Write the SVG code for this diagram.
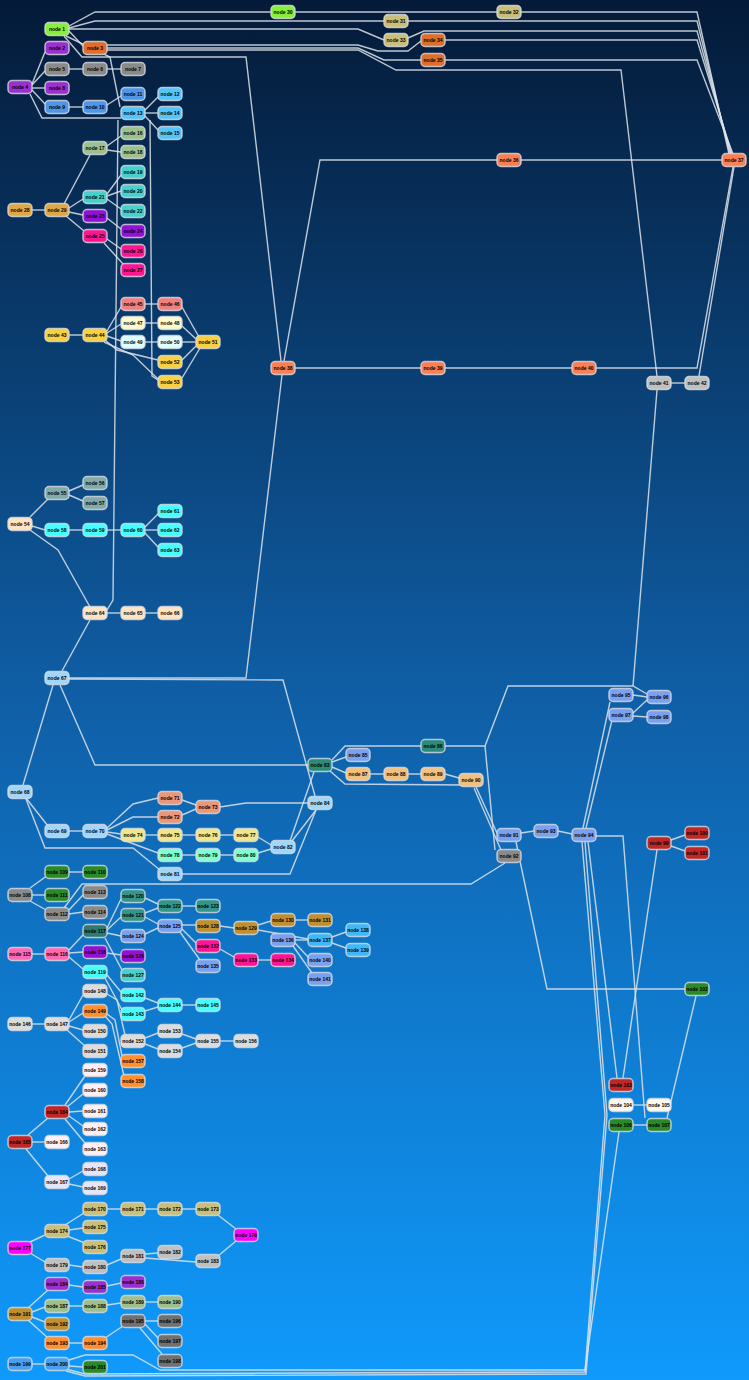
<svg xmlns="http://www.w3.org/2000/svg" width="749" height="1380" viewBox="0 0 749 1380">
<defs>
<linearGradient id="bg" x1="0" y1="0" x2="0" y2="1">
<stop offset="0" stop-color="#041a38"/>
<stop offset="0.5" stop-color="#0f5ea5"/>
<stop offset="1" stop-color="#0f9afc"/>
</linearGradient>
</defs>
<style>
rect.n{stroke:#d8dce2;stroke-opacity:0.8;stroke-width:1.5}
text{font-family:"Liberation Sans",Arial,sans-serif;font-size:5px;font-weight:bold;fill:#000;text-anchor:middle}
#edges path{fill:none;stroke:#dfe4ea;stroke-opacity:0.85;stroke-width:1.4}
.lg{fill:#88ee3a}.pu{fill:#9b30d0}.ch{fill:#dd6e2c}.gr{fill:#8a8a8a}.bl{fill:#4f95e8}.sk{fill:#54c4fb}
.dsg{fill:#9ec08e}.mt{fill:#48d1cc}.dv{fill:#9410d3}.dp{fill:#ff1493}.gd{fill:#dfa845}.dk{fill:#c8c07a}
.co{fill:#fa7f55}.si{fill:#c0c0c0}.go{fill:#f8d040}.lc{fill:#f08080}.lch{fill:#fffacd}.lcy{fill:#e0ffff}
.bi{fill:#ffe4c4}.cb{fill:#82aaa8}.aq{fill:#44ffff}.lsb{fill:#a0d6fb}.ds{fill:#e9967a}.kh{fill:#f0e68c}
.am{fill:#7fffd4}.tl{fill:#2b8a7a}.cf{fill:#7aa0f0}.bw{fill:#f3c07e}.fb{fill:#c02828}.fg{fill:#2a8a2a}
.fw{fill:#fffaf0}.hp{fill:#ff69b4}.dt{fill:#2c7a70}.tm{fill:#34958a}.dgr{fill:#c09030}.dsb{fill:#40b8f8}
.gn{fill:#dcdcdc}.do{fill:#ff9030}.lb{fill:#fff0f5}.lav{fill:#e6e6fa}.mg{fill:#ff00ff}.dkh{fill:#c8c078}
.dim{fill:#707070}.dgb{fill:#4aa0f0}
</style>
<rect width="749" height="1380" fill="url(#bg)"/>
<g id="edges">
<path d="M69,31 L83,46"/>
<path d="M69,26 L95,12 L271,12"/>
<path d="M295,12 L497,12"/>
<path d="M521,12 L697,12 L729,154"/>
<path d="M69,28 L95,21 L384,21"/>
<path d="M408,21 L697,21 L730,154"/>
<path d="M69,29 L358,29 L384,40"/>
<path d="M408,38 L424,31 L697,31 L731,154"/>
<path d="M107,45 L358,45 L378,51 L408,51 L421,41"/>
<path d="M445,40 L697,40 L732,154"/>
<path d="M107,48 L358,48 L384,60 L421,60"/>
<path d="M445,60 L697,60 L733,154"/>
<path d="M107,50 L358,50 L396,70 L621,70 L657,376"/>
<path d="M64,36 L82,57 L246,57 L281,361"/>
<path d="M66,36 L110,57 L120,107"/>
<path d="M32,84 L45,52"/>
<path d="M32,85 L45,71"/>
<path d="M32,88 L45,88"/>
<path d="M32,90 L45,104"/>
<path d="M30,94 L42,118 L121,118"/>
<path d="M69,69 L83,69"/>
<path d="M107,69 L121,69"/>
<path d="M69,107 L83,107"/>
<path d="M107,105 L121,96"/>
<path d="M145,110 L158,97"/>
<path d="M145,113 L158,113"/>
<path d="M145,116 L158,130"/>
<path d="M150,120 L152,376 L158,380"/>
<path d="M118,120 L113,600 L107,610"/>
<path d="M107,146 L121,136"/>
<path d="M107,150 L121,152"/>
<path d="M32,210 L45,210"/>
<path d="M64,204 L90,155"/>
<path d="M69,208 L83,199"/>
<path d="M69,212 L83,215"/>
<path d="M66,216 L84,231"/>
<path d="M107,194 L121,175"/>
<path d="M107,196 L121,191"/>
<path d="M107,199 L121,209"/>
<path d="M107,218 L121,229"/>
<path d="M107,239 L121,249"/>
<path d="M104,243 L124,265"/>
<path d="M69,335 L83,335"/>
<path d="M107,331 L121,307"/>
<path d="M107,333 L121,324"/>
<path d="M107,336 L121,341"/>
<path d="M105,340 L117,350 L158,360"/>
<path d="M104,342 L133,355 L158,379"/>
<path d="M145,304 L158,304"/>
<path d="M145,323 L158,323"/>
<path d="M145,342 L158,342"/>
<path d="M182,307 L199,337"/>
<path d="M182,326 L196,339"/>
<path d="M182,342 L196,342"/>
<path d="M182,360 L196,346"/>
<path d="M182,378 L200,348"/>
<path d="M30,517 L48,499"/>
<path d="M32,526 L45,530"/>
<path d="M30,530 L58,550 L90,607"/>
<path d="M69,491 L83,485"/>
<path d="M69,495 L83,501"/>
<path d="M69,530 L83,530"/>
<path d="M107,530 L121,530"/>
<path d="M145,527 L158,514"/>
<path d="M145,530 L158,530"/>
<path d="M145,533 L158,547"/>
<path d="M107,613 L121,613"/>
<path d="M145,613 L158,613"/>
<path d="M62,671 L90,620"/>
<path d="M69,678 L246,678 L282,375"/>
<path d="M69,679 L283,680 L315,796"/>
<path d="M60,685 L95,765 L308,765"/>
<path d="M53,685 L23,785"/>
<path d="M26,798 L48,826"/>
<path d="M26,799 L45,848 L133,848 L160,870"/>
<path d="M69,831 L83,831"/>
<path d="M107,828 L133,804 L158,798"/>
<path d="M107,830 L133,817 L158,817"/>
<path d="M107,832 L121,834"/>
<path d="M107,834 L158,853"/>
<path d="M182,800 L196,805"/>
<path d="M182,815 L196,809"/>
<path d="M220,807 L246,803 L308,803"/>
<path d="M145,835 L158,835"/>
<path d="M182,835 L196,835"/>
<path d="M220,835 L234,835"/>
<path d="M258,837 L271,845"/>
<path d="M182,855 L196,855"/>
<path d="M220,855 L234,855"/>
<path d="M258,853 L271,849"/>
<path d="M182,874 L290,874 L316,810"/>
<path d="M290,841 L314,772"/>
<path d="M292,841 L316,810"/>
<path d="M332,762 L346,757"/>
<path d="M332,760 L345,746 L421,746"/>
<path d="M332,767 L346,773"/>
<path d="M330,771 L345,784 L462,785"/>
<path d="M370,774 L384,774"/>
<path d="M408,774 L421,774"/>
<path d="M445,774 L459,778"/>
<path d="M445,746 L485,746 L508,686 L633,686 L647,694"/>
<path d="M657,390 L633,686"/>
<path d="M671,383 L685,383"/>
<path d="M699,376 L734,167"/>
<path d="M596,368 L697,368 L733,167"/>
<path d="M284,361 L320,160 L497,160"/>
<path d="M521,160 L722,160"/>
<path d="M295,368 L421,368"/>
<path d="M445,368 L572,368"/>
<path d="M476,787 L497,833"/>
<path d="M474,788 L501,850"/>
<path d="M485,746 L495,850"/>
<path d="M521,833 L534,831"/>
<path d="M558,831 L572,834"/>
<path d="M586,828 L612,720"/>
<path d="M583,828 L610,702"/>
<path d="M633,695 L647,697"/>
<path d="M633,713 L647,700"/>
<path d="M633,716 L647,717"/>
<path d="M596,836 L623,836 L645,1118"/>
<path d="M588,842 L617,1078"/>
<path d="M516,842 L547,989 L685,989"/>
<path d="M671,840 L685,835"/>
<path d="M671,846 L685,851"/>
<path d="M657,850 L623,1078"/>
<path d="M696,996 L667,1118"/>
<path d="M633,1105 L647,1105"/>
<path d="M633,1125 L647,1125"/>
<path d="M505,863 L471,884 L82,884 L64,908"/>
<path d="M30,888 L48,875"/>
<path d="M32,895 L45,895"/>
<path d="M30,901 L48,911"/>
<path d="M69,872 L83,872"/>
<path d="M69,910 L83,895"/>
<path d="M69,914 L83,912"/>
<path d="M32,954 L45,954"/>
<path d="M69,950 L83,935"/>
<path d="M69,953 L83,952"/>
<path d="M69,957 L83,969"/>
<path d="M107,928 L121,899"/>
<path d="M107,930 L121,917"/>
<path d="M107,933 L121,936"/>
<path d="M105,938 L122,970"/>
<path d="M107,953 L121,955"/>
<path d="M107,975 L121,992"/>
<path d="M105,978 L122,1010"/>
<path d="M145,898 L158,904"/>
<path d="M145,913 L158,908"/>
<path d="M145,917 L158,924"/>
<path d="M145,934 L158,928"/>
<path d="M182,906 L196,906"/>
<path d="M182,925 L196,925"/>
<path d="M182,929 L196,943"/>
<path d="M180,932 L200,960"/>
<path d="M220,926 L234,928"/>
<path d="M258,925 L271,921"/>
<path d="M258,930 L308,939"/>
<path d="M295,920 L308,920"/>
<path d="M295,940 L308,940"/>
<path d="M295,943 L308,957"/>
<path d="M293,946 L312,973"/>
<path d="M332,937 L346,932"/>
<path d="M332,943 L346,948"/>
<path d="M220,949 L234,957"/>
<path d="M258,960 L271,960"/>
<path d="M145,998 L158,1003"/>
<path d="M145,1011 L158,1007"/>
<path d="M182,1005 L196,1005"/>
<path d="M32,1024 L45,1024"/>
<path d="M69,1020 L83,995"/>
<path d="M69,1022 L83,1013"/>
<path d="M69,1026 L83,1030"/>
<path d="M67,1030 L85,1046"/>
<path d="M107,994 L117,1000 L125,1035"/>
<path d="M107,1014 L115,1020 L122,1056"/>
<path d="M105,1016 L112,1024 L124,1076"/>
<path d="M145,1038 L158,1033"/>
<path d="M145,1044 L158,1049"/>
<path d="M182,1034 L196,1039"/>
<path d="M182,1048 L196,1043"/>
<path d="M220,1041 L234,1041"/>
<path d="M65,1105 L85,1076"/>
<path d="M67,1107 L83,1094"/>
<path d="M69,1112 L83,1111"/>
<path d="M69,1116 L83,1126"/>
<path d="M65,1119 L85,1143"/>
<path d="M28,1135 L48,1118"/>
<path d="M32,1142 L45,1142"/>
<path d="M26,1149 L48,1176"/>
<path d="M69,1179 L83,1171"/>
<path d="M69,1184 L83,1187"/>
<path d="M30,1242 L45,1235"/>
<path d="M30,1253 L45,1262"/>
<path d="M65,1225 L84,1213"/>
<path d="M69,1230 L83,1228"/>
<path d="M67,1236 L85,1243"/>
<path d="M107,1209 L121,1209"/>
<path d="M145,1209 L158,1209"/>
<path d="M182,1209 L196,1209"/>
<path d="M218,1215 L236,1229"/>
<path d="M69,1265 L83,1267"/>
<path d="M107,1265 L121,1259"/>
<path d="M145,1254 L158,1253"/>
<path d="M145,1258 L196,1262"/>
<path d="M218,1256 L236,1241"/>
<path d="M28,1308 L48,1290"/>
<path d="M32,1312 L45,1307"/>
<path d="M32,1317 L45,1322"/>
<path d="M28,1320 L48,1338"/>
<path d="M69,1285 L83,1287"/>
<path d="M107,1286 L121,1283"/>
<path d="M69,1306 L83,1306"/>
<path d="M107,1305 L121,1303"/>
<path d="M145,1302 L158,1302"/>
<path d="M69,1343 L83,1343"/>
<path d="M105,1338 L123,1326"/>
<path d="M145,1321 L158,1321"/>
<path d="M145,1324 L158,1338"/>
<path d="M140,1328 L162,1354"/>
<path d="M32,1364 L45,1364"/>
<path d="M69,1366 L83,1367"/>
<path d="M69,1360 L85,1355 L133,1355 L160,1370 L585,1370 L619,1132"/>
<path d="M66,1371 L85,1376 L586,1374 L607,1115 L585,842"/>
<path d="M66,1369 L85,1374 L585,1372 L605,1115 L582,842"/>
</g>
<g id="n1"><rect class="n lg" x="45" y="22.5" width="24" height="13" rx="4"/><text x="57" y="30.7">node 1</text></g>
<g id="n2"><rect class="n pu" x="45" y="41.5" width="24" height="13" rx="4"/><text x="57" y="49.7">node 2</text></g>
<g id="n3"><rect class="n ch" x="83" y="41.5" width="24" height="13" rx="4"/><text x="95" y="49.7">node 3</text></g>
<g id="n4"><rect class="n pu" x="8" y="80.5" width="24" height="13" rx="4"/><text x="20" y="88.7">node 4</text></g>
<g id="n5"><rect class="n gr" x="45" y="62.5" width="24" height="13" rx="4"/><text x="57" y="70.7">node 5</text></g>
<g id="n6"><rect class="n gr" x="83" y="62.5" width="24" height="13" rx="4"/><text x="95" y="70.7">node 6</text></g>
<g id="n7"><rect class="n gr" x="121" y="62.5" width="24" height="13" rx="4"/><text x="133" y="70.7">node 7</text></g>
<g id="n8"><rect class="n pu" x="45" y="81.5" width="24" height="13" rx="4"/><text x="57" y="89.7">node 8</text></g>
<g id="n9"><rect class="n bl" x="45" y="100.5" width="24" height="13" rx="4"/><text x="57" y="108.7">node 9</text></g>
<g id="n10"><rect class="n bl" x="83" y="100.5" width="24" height="13" rx="4"/><text x="95" y="108.7">node 10</text></g>
<g id="n11"><rect class="n bl" x="121" y="87.5" width="24" height="13" rx="4"/><text x="133" y="95.7">node 11</text></g>
<g id="n12"><rect class="n sk" x="158" y="87.5" width="24" height="13" rx="4"/><text x="170" y="95.7">node 12</text></g>
<g id="n13"><rect class="n sk" x="121" y="106.5" width="24" height="13" rx="4"/><text x="133" y="114.7">node 13</text></g>
<g id="n14"><rect class="n sk" x="158" y="106.5" width="24" height="13" rx="4"/><text x="170" y="114.7">node 14</text></g>
<g id="n15"><rect class="n sk" x="158" y="126.5" width="24" height="13" rx="4"/><text x="170" y="134.7">node 15</text></g>
<g id="n16"><rect class="n dsg" x="121" y="126.5" width="24" height="13" rx="4"/><text x="133" y="134.7">node 16</text></g>
<g id="n17"><rect class="n dsg" x="83" y="141.5" width="24" height="13" rx="4"/><text x="95" y="149.7">node 17</text></g>
<g id="n18"><rect class="n dsg" x="121" y="145.5" width="24" height="13" rx="4"/><text x="133" y="153.7">node 18</text></g>
<g id="n19"><rect class="n mt" x="121" y="165.5" width="24" height="13" rx="4"/><text x="133" y="173.7">node 19</text></g>
<g id="n20"><rect class="n mt" x="121" y="184.5" width="24" height="13" rx="4"/><text x="133" y="192.7">node 20</text></g>
<g id="n21"><rect class="n mt" x="83" y="190.5" width="24" height="13" rx="4"/><text x="95" y="198.7">node 21</text></g>
<g id="n22"><rect class="n mt" x="121" y="204.5" width="24" height="13" rx="4"/><text x="133" y="212.7">node 22</text></g>
<g id="n23"><rect class="n dv" x="83" y="209.5" width="24" height="13" rx="4"/><text x="95" y="217.7">node 23</text></g>
<g id="n24"><rect class="n dv" x="121" y="224.5" width="24" height="13" rx="4"/><text x="133" y="232.7">node 24</text></g>
<g id="n25"><rect class="n dp" x="83" y="229.5" width="24" height="13" rx="4"/><text x="95" y="237.7">node 25</text></g>
<g id="n26"><rect class="n dp" x="121" y="244.5" width="24" height="13" rx="4"/><text x="133" y="252.7">node 26</text></g>
<g id="n27"><rect class="n dp" x="121" y="263.5" width="24" height="13" rx="4"/><text x="133" y="271.7">node 27</text></g>
<g id="n28"><rect class="n gd" x="8" y="203.5" width="24" height="13" rx="4"/><text x="20" y="211.7">node 28</text></g>
<g id="n29"><rect class="n gd" x="45" y="203.5" width="24" height="13" rx="4"/><text x="57" y="211.7">node 29</text></g>
<g id="n30"><rect class="n lg" x="271" y="5.5" width="24" height="13" rx="4"/><text x="283" y="13.7">node 30</text></g>
<g id="n31"><rect class="n dk" x="384" y="14.5" width="24" height="13" rx="4"/><text x="396" y="22.7">node 31</text></g>
<g id="n32"><rect class="n dk" x="497" y="5.5" width="24" height="13" rx="4"/><text x="509" y="13.7">node 32</text></g>
<g id="n33"><rect class="n dk" x="384" y="33.5" width="24" height="13" rx="4"/><text x="396" y="41.7">node 33</text></g>
<g id="n34"><rect class="n ch" x="421" y="33.5" width="24" height="13" rx="4"/><text x="433" y="41.7">node 34</text></g>
<g id="n35"><rect class="n ch" x="421" y="53.5" width="24" height="13" rx="4"/><text x="433" y="61.7">node 35</text></g>
<g id="n36"><rect class="n co" x="497" y="153.5" width="24" height="13" rx="4"/><text x="509" y="161.7">node 36</text></g>
<g id="n37"><rect class="n co" x="722" y="153.5" width="24" height="13" rx="4"/><text x="734" y="161.7">node 37</text></g>
<g id="n38"><rect class="n co" x="271" y="361.5" width="24" height="13" rx="4"/><text x="283" y="369.7">node 38</text></g>
<g id="n39"><rect class="n co" x="421" y="361.5" width="24" height="13" rx="4"/><text x="433" y="369.7">node 39</text></g>
<g id="n40"><rect class="n co" x="572" y="361.5" width="24" height="13" rx="4"/><text x="584" y="369.7">node 40</text></g>
<g id="n41"><rect class="n si" x="647" y="376.5" width="24" height="13" rx="4"/><text x="659" y="384.7">node 41</text></g>
<g id="n42"><rect class="n si" x="685" y="376.5" width="24" height="13" rx="4"/><text x="697" y="384.7">node 42</text></g>
<g id="n43"><rect class="n go" x="45" y="328.5" width="24" height="13" rx="4"/><text x="57" y="336.7">node 43</text></g>
<g id="n44"><rect class="n go" x="83" y="328.5" width="24" height="13" rx="4"/><text x="95" y="336.7">node 44</text></g>
<g id="n45"><rect class="n lc" x="121" y="297.5" width="24" height="13" rx="4"/><text x="133" y="305.7">node 45</text></g>
<g id="n46"><rect class="n lc" x="158" y="297.5" width="24" height="13" rx="4"/><text x="170" y="305.7">node 46</text></g>
<g id="n47"><rect class="n lch" x="121" y="316.5" width="24" height="13" rx="4"/><text x="133" y="324.7">node 47</text></g>
<g id="n48"><rect class="n lch" x="158" y="316.5" width="24" height="13" rx="4"/><text x="170" y="324.7">node 48</text></g>
<g id="n49"><rect class="n lcy" x="121" y="335.5" width="24" height="13" rx="4"/><text x="133" y="343.7">node 49</text></g>
<g id="n50"><rect class="n lcy" x="158" y="335.5" width="24" height="13" rx="4"/><text x="170" y="343.7">node 50</text></g>
<g id="n51"><rect class="n go" x="196" y="335.5" width="24" height="13" rx="4"/><text x="208" y="343.7">node 51</text></g>
<g id="n52"><rect class="n go" x="158" y="355.5" width="24" height="13" rx="4"/><text x="170" y="363.7">node 52</text></g>
<g id="n53"><rect class="n go" x="158" y="375.5" width="24" height="13" rx="4"/><text x="170" y="383.7">node 53</text></g>
<g id="n54"><rect class="n bi" x="8" y="517.5" width="24" height="13" rx="4"/><text x="20" y="525.7">node 54</text></g>
<g id="n55"><rect class="n cb" x="45" y="486.5" width="24" height="13" rx="4"/><text x="57" y="494.7">node 55</text></g>
<g id="n56"><rect class="n cb" x="83" y="476.5" width="24" height="13" rx="4"/><text x="95" y="484.7">node 56</text></g>
<g id="n57"><rect class="n cb" x="83" y="496.5" width="24" height="13" rx="4"/><text x="95" y="504.7">node 57</text></g>
<g id="n58"><rect class="n aq" x="45" y="523.5" width="24" height="13" rx="4"/><text x="57" y="531.7">node 58</text></g>
<g id="n59"><rect class="n aq" x="83" y="523.5" width="24" height="13" rx="4"/><text x="95" y="531.7">node 59</text></g>
<g id="n60"><rect class="n aq" x="121" y="523.5" width="24" height="13" rx="4"/><text x="133" y="531.7">node 60</text></g>
<g id="n61"><rect class="n aq" x="158" y="504.5" width="24" height="13" rx="4"/><text x="170" y="512.7">node 61</text></g>
<g id="n62"><rect class="n aq" x="158" y="523.5" width="24" height="13" rx="4"/><text x="170" y="531.7">node 62</text></g>
<g id="n63"><rect class="n aq" x="158" y="543.5" width="24" height="13" rx="4"/><text x="170" y="551.7">node 63</text></g>
<g id="n64"><rect class="n bi" x="83" y="606.5" width="24" height="13" rx="4"/><text x="95" y="614.7">node 64</text></g>
<g id="n65"><rect class="n bi" x="121" y="606.5" width="24" height="13" rx="4"/><text x="133" y="614.7">node 65</text></g>
<g id="n66"><rect class="n bi" x="158" y="606.5" width="24" height="13" rx="4"/><text x="170" y="614.7">node 66</text></g>
<g id="n67"><rect class="n lsb" x="45" y="671.5" width="24" height="13" rx="4"/><text x="57" y="679.7">node 67</text></g>
<g id="n68"><rect class="n lsb" x="8" y="785.5" width="24" height="13" rx="4"/><text x="20" y="793.7">node 68</text></g>
<g id="n69"><rect class="n lsb" x="45" y="824.5" width="24" height="13" rx="4"/><text x="57" y="832.7">node 69</text></g>
<g id="n70"><rect class="n lsb" x="83" y="824.5" width="24" height="13" rx="4"/><text x="95" y="832.7">node 70</text></g>
<g id="n71"><rect class="n ds" x="158" y="791.5" width="24" height="13" rx="4"/><text x="170" y="799.7">node 71</text></g>
<g id="n72"><rect class="n ds" x="158" y="810.5" width="24" height="13" rx="4"/><text x="170" y="818.7">node 72</text></g>
<g id="n73"><rect class="n ds" x="196" y="800.5" width="24" height="13" rx="4"/><text x="208" y="808.7">node 73</text></g>
<g id="n74"><rect class="n kh" x="121" y="828.5" width="24" height="13" rx="4"/><text x="133" y="836.7">node 74</text></g>
<g id="n75"><rect class="n kh" x="158" y="828.5" width="24" height="13" rx="4"/><text x="170" y="836.7">node 75</text></g>
<g id="n76"><rect class="n kh" x="196" y="828.5" width="24" height="13" rx="4"/><text x="208" y="836.7">node 76</text></g>
<g id="n77"><rect class="n kh" x="234" y="828.5" width="24" height="13" rx="4"/><text x="246" y="836.7">node 77</text></g>
<g id="n78"><rect class="n am" x="158" y="848.5" width="24" height="13" rx="4"/><text x="170" y="856.7">node 78</text></g>
<g id="n79"><rect class="n am" x="196" y="848.5" width="24" height="13" rx="4"/><text x="208" y="856.7">node 79</text></g>
<g id="n80"><rect class="n am" x="234" y="848.5" width="24" height="13" rx="4"/><text x="246" y="856.7">node 80</text></g>
<g id="n81"><rect class="n lsb" x="158" y="867.5" width="24" height="13" rx="4"/><text x="170" y="875.7">node 81</text></g>
<g id="n82"><rect class="n lsb" x="271" y="840.5" width="24" height="13" rx="4"/><text x="283" y="848.7">node 82</text></g>
<g id="n83"><rect class="n tl" x="308" y="758.5" width="24" height="13" rx="4"/><text x="320" y="766.7">node 83</text></g>
<g id="n84"><rect class="n lsb" x="308" y="796.5" width="24" height="13" rx="4"/><text x="320" y="804.7">node 84</text></g>
<g id="n85"><rect class="n cf" x="346" y="748.5" width="24" height="13" rx="4"/><text x="358" y="756.7">node 85</text></g>
<g id="n86"><rect class="n tl" x="421" y="739.5" width="24" height="13" rx="4"/><text x="433" y="747.7">node 86</text></g>
<g id="n87"><rect class="n bw" x="346" y="767.5" width="24" height="13" rx="4"/><text x="358" y="775.7">node 87</text></g>
<g id="n88"><rect class="n bw" x="384" y="767.5" width="24" height="13" rx="4"/><text x="396" y="775.7">node 88</text></g>
<g id="n89"><rect class="n bw" x="421" y="767.5" width="24" height="13" rx="4"/><text x="433" y="775.7">node 89</text></g>
<g id="n90"><rect class="n bw" x="459" y="773.5" width="24" height="13" rx="4"/><text x="471" y="781.7">node 90</text></g>
<g id="n91"><rect class="n cf" x="497" y="828.5" width="24" height="13" rx="4"/><text x="509" y="836.7">node 91</text></g>
<g id="n92"><rect class="n gr" x="497" y="849.5" width="24" height="13" rx="4"/><text x="509" y="857.7">node 92</text></g>
<g id="n93"><rect class="n cf" x="534" y="824.5" width="24" height="13" rx="4"/><text x="546" y="832.7">node 93</text></g>
<g id="n94"><rect class="n cf" x="572" y="828.5" width="24" height="13" rx="4"/><text x="584" y="836.7">node 94</text></g>
<g id="n95"><rect class="n cf" x="609" y="688.5" width="24" height="13" rx="4"/><text x="621" y="696.7">node 95</text></g>
<g id="n96"><rect class="n cf" x="647" y="690.5" width="24" height="13" rx="4"/><text x="659" y="698.7">node 96</text></g>
<g id="n97"><rect class="n cf" x="609" y="708.5" width="24" height="13" rx="4"/><text x="621" y="716.7">node 97</text></g>
<g id="n98"><rect class="n cf" x="647" y="710.5" width="24" height="13" rx="4"/><text x="659" y="718.7">node 98</text></g>
<g id="n99"><rect class="n fb" x="647" y="836.5" width="24" height="13" rx="4"/><text x="659" y="844.7">node 99</text></g>
<g id="n100"><rect class="n fb" x="685" y="826.5" width="24" height="13" rx="4"/><text x="697" y="834.7">node 100</text></g>
<g id="n101"><rect class="n fb" x="685" y="846.5" width="24" height="13" rx="4"/><text x="697" y="854.7">node 101</text></g>
<g id="n102"><rect class="n fg" x="685" y="982.5" width="24" height="13" rx="4"/><text x="697" y="990.7">node 102</text></g>
<g id="n103"><rect class="n fb" x="609" y="1078.5" width="24" height="13" rx="4"/><text x="621" y="1086.7">node 103</text></g>
<g id="n104"><rect class="n fw" x="609" y="1098.5" width="24" height="13" rx="4"/><text x="621" y="1106.7">node 104</text></g>
<g id="n105"><rect class="n fw" x="647" y="1098.5" width="24" height="13" rx="4"/><text x="659" y="1106.7">node 105</text></g>
<g id="n106"><rect class="n fg" x="609" y="1118.5" width="24" height="13" rx="4"/><text x="621" y="1126.7">node 106</text></g>
<g id="n107"><rect class="n fg" x="647" y="1118.5" width="24" height="13" rx="4"/><text x="659" y="1126.7">node 107</text></g>
<g id="n108"><rect class="n gr" x="8" y="888.5" width="24" height="13" rx="4"/><text x="20" y="896.7">node 108</text></g>
<g id="n109"><rect class="n fg" x="45" y="865.5" width="24" height="13" rx="4"/><text x="57" y="873.7">node 109</text></g>
<g id="n110"><rect class="n fg" x="83" y="865.5" width="24" height="13" rx="4"/><text x="95" y="873.7">node 110</text></g>
<g id="n111"><rect class="n fg" x="45" y="888.5" width="24" height="13" rx="4"/><text x="57" y="896.7">node 111</text></g>
<g id="n112"><rect class="n gr" x="45" y="907.5" width="24" height="13" rx="4"/><text x="57" y="915.7">node 112</text></g>
<g id="n113"><rect class="n gr" x="83" y="885.5" width="24" height="13" rx="4"/><text x="95" y="893.7">node 113</text></g>
<g id="n114"><rect class="n gr" x="83" y="905.5" width="24" height="13" rx="4"/><text x="95" y="913.7">node 114</text></g>
<g id="n115"><rect class="n hp" x="8" y="947.5" width="24" height="13" rx="4"/><text x="20" y="955.7">node 115</text></g>
<g id="n116"><rect class="n hp" x="45" y="947.5" width="24" height="13" rx="4"/><text x="57" y="955.7">node 116</text></g>
<g id="n117"><rect class="n dt" x="83" y="924.5" width="24" height="13" rx="4"/><text x="95" y="932.7">node 117</text></g>
<g id="n118"><rect class="n dv" x="83" y="945.5" width="24" height="13" rx="4"/><text x="95" y="953.7">node 118</text></g>
<g id="n119"><rect class="n aq" x="83" y="965.5" width="24" height="13" rx="4"/><text x="95" y="973.7">node 119</text></g>
<g id="n120"><rect class="n tm" x="121" y="889.5" width="24" height="13" rx="4"/><text x="133" y="897.7">node 120</text></g>
<g id="n121"><rect class="n tm" x="121" y="908.5" width="24" height="13" rx="4"/><text x="133" y="916.7">node 121</text></g>
<g id="n122"><rect class="n tm" x="158" y="899.5" width="24" height="13" rx="4"/><text x="170" y="907.7">node 122</text></g>
<g id="n123"><rect class="n tm" x="196" y="899.5" width="24" height="13" rx="4"/><text x="208" y="907.7">node 123</text></g>
<g id="n124"><rect class="n cf" x="121" y="929.5" width="24" height="13" rx="4"/><text x="133" y="937.7">node 124</text></g>
<g id="n125"><rect class="n cf" x="158" y="919.5" width="24" height="13" rx="4"/><text x="170" y="927.7">node 125</text></g>
<g id="n126"><rect class="n dv" x="121" y="949.5" width="24" height="13" rx="4"/><text x="133" y="957.7">node 126</text></g>
<g id="n127"><rect class="n mt" x="121" y="968.5" width="24" height="13" rx="4"/><text x="133" y="976.7">node 127</text></g>
<g id="n128"><rect class="n dgr" x="196" y="919.5" width="24" height="13" rx="4"/><text x="208" y="927.7">node 128</text></g>
<g id="n129"><rect class="n dgr" x="234" y="921.5" width="24" height="13" rx="4"/><text x="246" y="929.7">node 129</text></g>
<g id="n130"><rect class="n dgr" x="271" y="913.5" width="24" height="13" rx="4"/><text x="283" y="921.7">node 130</text></g>
<g id="n131"><rect class="n dgr" x="308" y="913.5" width="24" height="13" rx="4"/><text x="320" y="921.7">node 131</text></g>
<g id="n132"><rect class="n dp" x="196" y="939.5" width="24" height="13" rx="4"/><text x="208" y="947.7">node 132</text></g>
<g id="n133"><rect class="n dp" x="234" y="953.5" width="24" height="13" rx="4"/><text x="246" y="961.7">node 133</text></g>
<g id="n134"><rect class="n dp" x="271" y="953.5" width="24" height="13" rx="4"/><text x="283" y="961.7">node 134</text></g>
<g id="n135"><rect class="n cf" x="196" y="959.5" width="24" height="13" rx="4"/><text x="208" y="967.7">node 135</text></g>
<g id="n136"><rect class="n cf" x="271" y="933.5" width="24" height="13" rx="4"/><text x="283" y="941.7">node 136</text></g>
<g id="n137"><rect class="n dsb" x="308" y="933.5" width="24" height="13" rx="4"/><text x="320" y="941.7">node 137</text></g>
<g id="n138"><rect class="n dsb" x="346" y="923.5" width="24" height="13" rx="4"/><text x="358" y="931.7">node 138</text></g>
<g id="n139"><rect class="n dsb" x="346" y="943.5" width="24" height="13" rx="4"/><text x="358" y="951.7">node 139</text></g>
<g id="n140"><rect class="n cf" x="308" y="953.5" width="24" height="13" rx="4"/><text x="320" y="961.7">node 140</text></g>
<g id="n141"><rect class="n cf" x="308" y="972.5" width="24" height="13" rx="4"/><text x="320" y="980.7">node 141</text></g>
<g id="n142"><rect class="n aq" x="121" y="988.5" width="24" height="13" rx="4"/><text x="133" y="996.7">node 142</text></g>
<g id="n143"><rect class="n aq" x="121" y="1007.5" width="24" height="13" rx="4"/><text x="133" y="1015.7">node 143</text></g>
<g id="n144"><rect class="n aq" x="158" y="998.5" width="24" height="13" rx="4"/><text x="170" y="1006.7">node 144</text></g>
<g id="n145"><rect class="n aq" x="196" y="998.5" width="24" height="13" rx="4"/><text x="208" y="1006.7">node 145</text></g>
<g id="n146"><rect class="n gn" x="8" y="1017.5" width="24" height="13" rx="4"/><text x="20" y="1025.7">node 146</text></g>
<g id="n147"><rect class="n gn" x="45" y="1017.5" width="24" height="13" rx="4"/><text x="57" y="1025.7">node 147</text></g>
<g id="n148"><rect class="n gn" x="83" y="984.5" width="24" height="13" rx="4"/><text x="95" y="992.7">node 148</text></g>
<g id="n149"><rect class="n do" x="83" y="1004.5" width="24" height="13" rx="4"/><text x="95" y="1012.7">node 149</text></g>
<g id="n150"><rect class="n gn" x="83" y="1024.5" width="24" height="13" rx="4"/><text x="95" y="1032.7">node 150</text></g>
<g id="n151"><rect class="n gn" x="83" y="1044.5" width="24" height="13" rx="4"/><text x="95" y="1052.7">node 151</text></g>
<g id="n152"><rect class="n gn" x="121" y="1034.5" width="24" height="13" rx="4"/><text x="133" y="1042.7">node 152</text></g>
<g id="n153"><rect class="n gn" x="158" y="1024.5" width="24" height="13" rx="4"/><text x="170" y="1032.7">node 153</text></g>
<g id="n154"><rect class="n gn" x="158" y="1044.5" width="24" height="13" rx="4"/><text x="170" y="1052.7">node 154</text></g>
<g id="n155"><rect class="n gn" x="196" y="1034.5" width="24" height="13" rx="4"/><text x="208" y="1042.7">node 155</text></g>
<g id="n156"><rect class="n gn" x="234" y="1034.5" width="24" height="13" rx="4"/><text x="246" y="1042.7">node 156</text></g>
<g id="n157"><rect class="n do" x="121" y="1054.5" width="24" height="13" rx="4"/><text x="133" y="1062.7">node 157</text></g>
<g id="n158"><rect class="n do" x="121" y="1074.5" width="24" height="13" rx="4"/><text x="133" y="1082.7">node 158</text></g>
<g id="n159"><rect class="n lb" x="83" y="1063.5" width="24" height="13" rx="4"/><text x="95" y="1071.7">node 159</text></g>
<g id="n160"><rect class="n lb" x="83" y="1083.5" width="24" height="13" rx="4"/><text x="95" y="1091.7">node 160</text></g>
<g id="n161"><rect class="n lb" x="83" y="1104.5" width="24" height="13" rx="4"/><text x="95" y="1112.7">node 161</text></g>
<g id="n162"><rect class="n lb" x="83" y="1122.5" width="24" height="13" rx="4"/><text x="95" y="1130.7">node 162</text></g>
<g id="n163"><rect class="n lb" x="83" y="1142.5" width="24" height="13" rx="4"/><text x="95" y="1150.7">node 163</text></g>
<g id="n164"><rect class="n fb" x="45" y="1105.5" width="24" height="13" rx="4"/><text x="57" y="1113.7">node 164</text></g>
<g id="n165"><rect class="n fb" x="8" y="1135.5" width="24" height="13" rx="4"/><text x="20" y="1143.7">node 165</text></g>
<g id="n166"><rect class="n lb" x="45" y="1135.5" width="24" height="13" rx="4"/><text x="57" y="1143.7">node 166</text></g>
<g id="n167"><rect class="n lav" x="45" y="1175.5" width="24" height="13" rx="4"/><text x="57" y="1183.7">node 167</text></g>
<g id="n168"><rect class="n lav" x="83" y="1162.5" width="24" height="13" rx="4"/><text x="95" y="1170.7">node 168</text></g>
<g id="n169"><rect class="n lav" x="83" y="1181.5" width="24" height="13" rx="4"/><text x="95" y="1189.7">node 169</text></g>
<g id="n170"><rect class="n dkh" x="83" y="1202.5" width="24" height="13" rx="4"/><text x="95" y="1210.7">node 170</text></g>
<g id="n171"><rect class="n dkh" x="121" y="1202.5" width="24" height="13" rx="4"/><text x="133" y="1210.7">node 171</text></g>
<g id="n172"><rect class="n dkh" x="158" y="1202.5" width="24" height="13" rx="4"/><text x="170" y="1210.7">node 172</text></g>
<g id="n173"><rect class="n dkh" x="196" y="1202.5" width="24" height="13" rx="4"/><text x="208" y="1210.7">node 173</text></g>
<g id="n174"><rect class="n dkh" x="45" y="1224.5" width="24" height="13" rx="4"/><text x="57" y="1232.7">node 174</text></g>
<g id="n175"><rect class="n dkh" x="83" y="1220.5" width="24" height="13" rx="4"/><text x="95" y="1228.7">node 175</text></g>
<g id="n176"><rect class="n dkh" x="83" y="1240.5" width="24" height="13" rx="4"/><text x="95" y="1248.7">node 176</text></g>
<g id="n177"><rect class="n mg" x="8" y="1241.5" width="24" height="13" rx="4"/><text x="20" y="1249.7">node 177</text></g>
<g id="n178"><rect class="n mg" x="234" y="1228.5" width="24" height="13" rx="4"/><text x="246" y="1236.7">node 178</text></g>
<g id="n179"><rect class="n si" x="45" y="1258.5" width="24" height="13" rx="4"/><text x="57" y="1266.7">node 179</text></g>
<g id="n180"><rect class="n si" x="83" y="1260.5" width="24" height="13" rx="4"/><text x="95" y="1268.7">node 180</text></g>
<g id="n181"><rect class="n si" x="121" y="1249.5" width="24" height="13" rx="4"/><text x="133" y="1257.7">node 181</text></g>
<g id="n182"><rect class="n si" x="158" y="1245.5" width="24" height="13" rx="4"/><text x="170" y="1253.7">node 182</text></g>
<g id="n183"><rect class="n si" x="196" y="1254.5" width="24" height="13" rx="4"/><text x="208" y="1262.7">node 183</text></g>
<g id="n184"><rect class="n pu" x="45" y="1277.5" width="24" height="13" rx="4"/><text x="57" y="1285.7">node 184</text></g>
<g id="n185"><rect class="n pu" x="83" y="1280.5" width="24" height="13" rx="4"/><text x="95" y="1288.7">node 185</text></g>
<g id="n186"><rect class="n pu" x="121" y="1275.5" width="24" height="13" rx="4"/><text x="133" y="1283.7">node 186</text></g>
<g id="n187"><rect class="n dsg" x="45" y="1299.5" width="24" height="13" rx="4"/><text x="57" y="1307.7">node 187</text></g>
<g id="n188"><rect class="n dsg" x="83" y="1299.5" width="24" height="13" rx="4"/><text x="95" y="1307.7">node 188</text></g>
<g id="n189"><rect class="n dsg" x="121" y="1295.5" width="24" height="13" rx="4"/><text x="133" y="1303.7">node 189</text></g>
<g id="n190"><rect class="n dsg" x="158" y="1295.5" width="24" height="13" rx="4"/><text x="170" y="1303.7">node 190</text></g>
<g id="n191"><rect class="n dgr" x="8" y="1307.5" width="24" height="13" rx="4"/><text x="20" y="1315.7">node 191</text></g>
<g id="n192"><rect class="n dgr" x="45" y="1317.5" width="24" height="13" rx="4"/><text x="57" y="1325.7">node 192</text></g>
<g id="n193"><rect class="n do" x="45" y="1336.5" width="24" height="13" rx="4"/><text x="57" y="1344.7">node 193</text></g>
<g id="n194"><rect class="n do" x="83" y="1336.5" width="24" height="13" rx="4"/><text x="95" y="1344.7">node 194</text></g>
<g id="n195"><rect class="n dim" x="121" y="1314.5" width="24" height="13" rx="4"/><text x="133" y="1322.7">node 195</text></g>
<g id="n196"><rect class="n dim" x="158" y="1314.5" width="24" height="13" rx="4"/><text x="170" y="1322.7">node 196</text></g>
<g id="n197"><rect class="n dim" x="158" y="1334.5" width="24" height="13" rx="4"/><text x="170" y="1342.7">node 197</text></g>
<g id="n198"><rect class="n dim" x="158" y="1354.5" width="24" height="13" rx="4"/><text x="170" y="1362.7">node 198</text></g>
<g id="n199"><rect class="n dgb" x="8" y="1357.5" width="24" height="13" rx="4"/><text x="20" y="1365.7">node 199</text></g>
<g id="n200"><rect class="n dgb" x="45" y="1357.5" width="24" height="13" rx="4"/><text x="57" y="1365.7">node 200</text></g>
<g id="n201"><rect class="n fg" x="83" y="1360.5" width="24" height="13" rx="4"/><text x="95" y="1368.7">node 201</text></g>
</svg>
